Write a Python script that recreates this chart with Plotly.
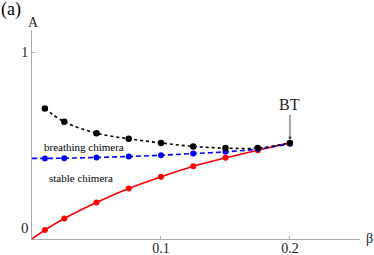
import plotly.graph_objects as go

beta_red = [0, 0.01, 0.025, 0.05, 0.075, 0.1, 0.125, 0.15, 0.175, 0.2]
A_red = [0, 0.048, 0.11, 0.196, 0.271, 0.333, 0.39, 0.435, 0.476, 0.515]

beta_blue = [0, 0.01, 0.025, 0.05, 0.075, 0.1, 0.125, 0.15, 0.175, 0.2]
A_blue = [0.432, 0.432, 0.433, 0.437, 0.442, 0.449, 0.458, 0.467, 0.482, 0.51]

beta_black = [0.01, 0.025, 0.05, 0.075, 0.1, 0.125, 0.15, 0.175, 0.2]
A_black = [0.70, 0.628, 0.567, 0.537, 0.515, 0.496, 0.487, 0.487, 0.515]

x_ticks = [0.1, 0.2]
x_ticktext = ["0.1", "0.2"]
y_ticks = [1]
y_ticktext = ["1"]

FONT = "Liberation Serif"

fig = go.Figure()
fig.add_trace(go.Scatter(x=beta_red, y=A_red, mode="lines", line=dict(color="#ff0000", width=1.6, shape="spline"), showlegend=False))
fig.add_trace(go.Scatter(x=beta_red[1:], y=A_red[1:], mode="markers", marker=dict(color="#ff0000", size=6), showlegend=False))
fig.add_trace(go.Scatter(x=beta_blue, y=A_blue, mode="lines", line=dict(color="#0000ff", width=1.6, dash="5px,3px", shape="spline"), showlegend=False))
fig.add_trace(go.Scatter(x=beta_blue[1:], y=A_blue[1:], mode="markers", marker=dict(color="#0000ff", size=6), showlegend=False))
fig.add_trace(go.Scatter(x=beta_black, y=A_black, mode="lines+markers", line=dict(color="#000000", width=1.6, dash="dot", shape="spline"), marker=dict(color="#000000", size=6.5), showlegend=False))

fig.update_layout(
    width=374, height=255,
    margin=dict(l=32, r=14, t=30, b=16, autoexpand=False),
    paper_bgcolor="white", plot_bgcolor="white",
    font=dict(family=FONT, size=13, color="#222"),
    xaxis=dict(range=[0, 0.2543], tickvals=x_ticks, ticktext=x_ticktext, ticks="inside", ticklen=3, automargin=False,
               ticklabelstandoff=-4,
               tickcolor="#aaa", showgrid=False, zeroline=False, showline=True, linecolor="#aaa", linewidth=1,
               tickfont=dict(family=FONT, size=14, color="#222")),
    yaxis=dict(range=[0, 1.12], tickvals=y_ticks, ticktext=y_ticktext, ticks="inside", ticklen=3, automargin=False,
               tickcolor="#aaa", showgrid=False, zeroline=False, showline=True, linecolor="#aaa", linewidth=1,
               tickfont=dict(family=FONT, size=14, color="#222")),
    annotations=[
        dict(text="(a)", xref="paper", yref="paper", x=-33/328, y=1 + 20/209, xanchor="left", yanchor="middle", showarrow=False, font=dict(family=FONT, size=18, color="#000")),
        dict(text="A", xref="paper", yref="paper", x=0.005, y=1 + 8/209, xanchor="center", yanchor="middle", showarrow=False, font=dict(family=FONT, size=14, color="#222")),
        dict(text="β", xref="paper", yref="paper", x=1 + 9/328, y=1/209, xanchor="center", yanchor="middle", showarrow=False, font=dict(family=FONT, size=14, color="#222")),
        dict(text="0", xref="paper", yref="paper", x=-7/328, y=11/209, xanchor="center", yanchor="middle", showarrow=False, font=dict(family=FONT, size=15, color="#222")),
        dict(text="breathing chimera", x=0.0078, y=0.495, xanchor="left", yanchor="middle", showarrow=False, font=dict(family=FONT, size=11, color="#000")),
        dict(text="stable chimera", x=0.0114, y=0.326, xanchor="left", yanchor="middle", showarrow=False, font=dict(family=FONT, size=11, color="#000")),
        dict(text="BT", x=0.2, y=0.515, ax=0, ay=-38, showarrow=True, arrowhead=2, arrowsize=0.8, arrowwidth=0.8, arrowcolor="#222", standoff=3, font=dict(family=FONT, size=16, color="#222")),
    ],
)

fig.write_html("out.html", config={"displayModeBar": False},
               post_script="document.body.style.margin='0';document.body.style.padding='0';")
